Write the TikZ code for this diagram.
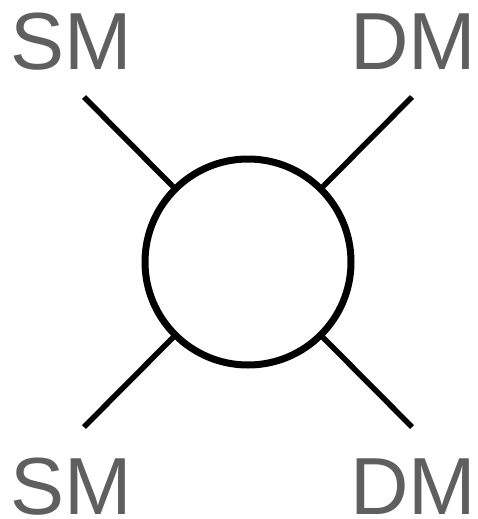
\documentclass[tikz,border=0pt]{standalone}
\usepackage{fontspec}
\setmainfont{Liberation Sans}
\definecolor{labelgray}{HTML}{5F5F5F}
\begin{document}
\begin{tikzpicture}[x=1pt,y=-1pt,
  lbl/.style={text=labelgray,font=\fontsize{81}{81}\selectfont,anchor=base,inner sep=0pt,text depth=0pt},
  leg/.style={line width=5.5pt,black},
  blob/.style={circle,draw=black,line width=7pt,fill=white,minimum size=206pt,inner sep=0pt}]
\useasboundingbox (0,0) rectangle (477,519);
\node[blob] (c) at (248,262) {};
\coordinate (tl) at (84,97);
\coordinate (tr) at (412,97);
\coordinate (bl) at (84,427);
\coordinate (br) at (412,427);
\draw[leg] (tl) -- (c);
\draw[leg] (tr) -- (c);
\draw[leg] (bl) -- (c);
\draw[leg] (br) -- (c);
\node[lbl] (sm1) at (71.5,70) {SM};
\node[lbl] (dm1) at (413,70) {DM};
\node[lbl] (sm2) at (71.5,514) {SM};
\node[lbl] (dm2) at (413,514) {DM};
\end{tikzpicture}
\end{document}
